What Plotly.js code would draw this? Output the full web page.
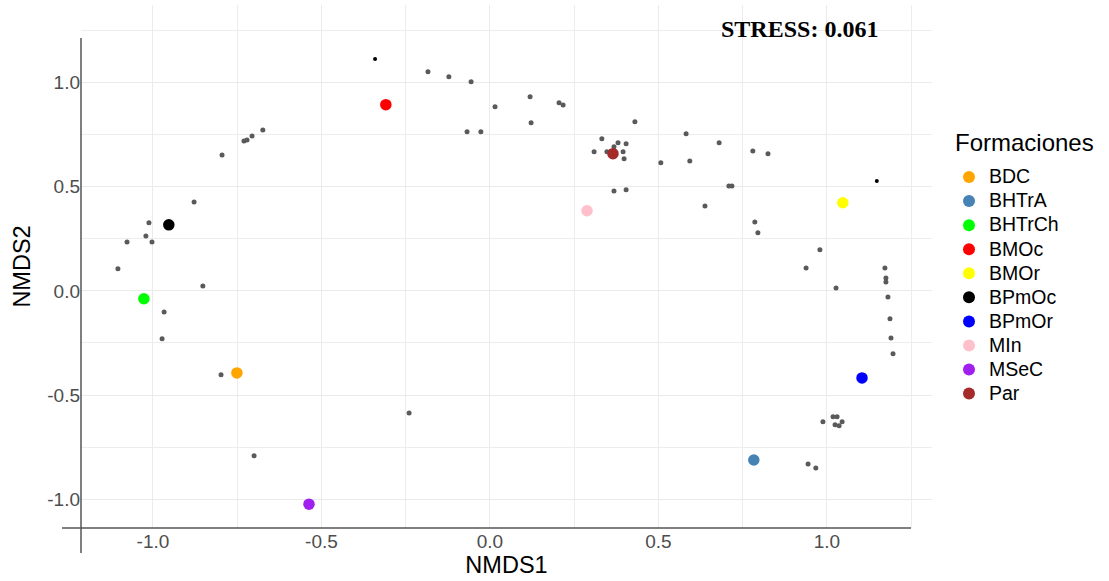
<!DOCTYPE html>
<html>
<head>
<meta charset="utf-8">
<script src="https://cdn.plot.ly/plotly-3.0.1.min.js"></script>
<style>html,body{margin:0;padding:0;background:#fff;}#chart{width:1109px;height:581px;}</style>
</head>
<body>
<div id="chart"></div>
<script>
// Formation (site) scores
const formaciones = ["BDC","BHTrA","BHTrCh","BMOc","BMOr","BPmOc","BPmOr","MIn","MSeC","Par"];
const formColors  = ["#FFA500","#4682B4","#00FF00","#FF0000","#FFFF00","#000000","#0000FF","#FFC0CB","#A020F0","#A52A2A"];
const formX = [-0.751, 0.783, -1.027, -0.309, 1.047, -0.953, 1.104, 0.288, -0.537, 0.365];
const formY = [-0.394, -0.812, -0.038, 0.894, 0.423, 0.317, -0.418, 0.385, -1.024, 0.659];

// Species scores (small grey points)
const speciesX = [-1.104,-1.077,-1.012,-1.021,-1.003,-0.878,-0.852,-0.967,-0.973,-0.798,-0.700,-0.240,
  -0.795,-0.730,-0.721,-0.706,-0.674,-0.184,-0.122,-0.056,-0.068,-0.027,0.015,0.119,0.122,0.205,0.217,
  0.430,0.332,0.380,0.404,0.368,0.309,0.347,0.395,0.398,0.507,0.582,0.593,0.638,0.680,0.709,0.718,
  0.780,0.825,0.368,0.404,0.786,0.795,0.979,0.938,1.027,1.172,1.175,1.175,1.181,1.187,1.190,1.196,
  0.988,1.018,1.030,1.024,1.036,1.045,0.944,0.967];
const speciesY = [0.106,0.235,0.327,0.264,0.235,0.427,0.024,-0.101,-0.230,-0.403,-0.792,-0.586,
  0.653,0.720,0.725,0.744,0.773,1.052,1.028,1.004,0.764,0.764,0.884,0.932,0.807,0.903,0.893,
  0.812,0.730,0.711,0.706,0.692,0.668,0.668,0.668,0.634,0.615,0.754,0.624,0.408,0.711,0.504,0.504,
  0.672,0.658,0.480,0.485,0.331,0.279,0.197,0.110,0.014,0.110,0.062,0.043,-0.029,-0.134,-0.226,-0.302,
  -0.629,-0.605,-0.605,-0.643,-0.648,-0.629,-0.831,-0.850];
// Species points drawn darker (overplotted)
const speciesDarkX = [-0.341, 1.148];
const speciesDarkY = [1.114, 0.528];

const xTickVals = [-1, -0.5, 0, 0.5, 1];
const xTickText = ["-1.0","-0.5","0.0","0.5","1.0"];
const yTickVals = [-1, -0.5, 0, 0.5, 1];
const yTickText = ["-1.0","-0.5","0.0","0.5","1.0"];
const stressText = "STRESS: 0.061";
const legendTitle = "Formaciones";

const traces = [];
traces.push({
  x: speciesX, y: speciesY, type: "scatter", mode: "markers", showlegend: false, hoverinfo: "skip",
  marker: {color: "#5a5a5a", size: 5}
});
traces.push({
  x: speciesDarkX, y: speciesDarkY, type: "scatter", mode: "markers", showlegend: false, hoverinfo: "skip",
  marker: {color: "#000000", size: 4}
});
formaciones.forEach((f, i) => {
  traces.push({
    x: [formX[i]], y: [formY[i]], type: "scatter", mode: "markers",
    name: '<span style="font-size:19.5px">' + f + '</span>',
    marker: {color: formColors[i], size: 11.5}
  });
});

const W = 851, H = 523; // plot area size in px
const layout = {
  width: 1109, height: 581,
  margin: {l: 81, r: 177, t: 5, b: 53},
  paper_bgcolor: "#ffffff", plot_bgcolor: "#ffffff",
  font: {family: "Liberation Sans, Arial, sans-serif", color: "#000"},
  xaxis: {
    range: [-1.2136, 1.3117], tickmode: "array", tickvals: xTickVals, ticktext: xTickText,
    showgrid: true, gridcolor: "#ebebeb", gridwidth: 1, zeroline: false, showline: false, ticks: "",
    tickfont: {size: 19, color: "#4d4d4d"},
    minor: {tickmode: "array", tickvals: [-1.25, -0.75, -0.25, 0.25, 0.75, 1.25], showgrid: true, gridcolor: "#ededed", gridwidth: 1},
    title: {text: "NMDS1", font: {size: 23.5, color: "#000"}, standoff: 5}
  },
  yaxis: {
    range: [-1.1386, 1.3727], tickmode: "array", tickvals: yTickVals, ticktext: yTickText,
    showgrid: true, gridcolor: "#ebebeb", gridwidth: 1, zeroline: false, showline: false, ticks: "",
    tickfont: {size: 19, color: "#4d4d4d"},
    minor: {tickmode: "array", tickvals: [-0.75, -0.25, 0.25, 0.75, 1.25], showgrid: true, gridcolor: "#ededed", gridwidth: 1},
    title: {text: "NMDS2", font: {size: 23.5, color: "#000"}, standoff: 10}
  },
  legend: {
    x: (949 - 81) / W, xanchor: "left", y: (528 - 160) / H, yanchor: "top",
    font: {size: 16.2, color: "#000"}, tracegroupgap: 0, itemsizing: "constant",
    bgcolor: "rgba(0,0,0,0)"
  },
  shapes: [
    {type: "rect", xref: "paper", yref: "paper", x0: 0.001, x1: (264 - 81) / W, y0: (528 - 50) / H, y1: (528 - 26) / H,
     fillcolor: "#ffffff", line: {width: 0}, layer: "below"},
    {type: "line", xref: "paper", yref: "paper", x0: 0, x1: 0, y0: (528 - 553) / H, y1: (528 - 38) / H,
     line: {color: "#000000", width: 1}},
    {type: "line", xref: "paper", yref: "paper", x0: (62 - 81) / W, x1: (911 - 81) / W, y0: 0, y1: 0,
     line: {color: "#555555", width: 1.6}}
  ],
  annotations: [
    {text: "<b>" + stressText + "</b>", xref: "paper", yref: "paper", x: (799 - 81) / W, y: (528 - 29) / H,
     xanchor: "center", yanchor: "middle", showarrow: false,
     font: {family: "Liberation Serif, Times New Roman, serif", size: 24, color: "#000"}},
    {text: legendTitle, xref: "paper", yref: "paper", x: (953 - 81) / W, y: (528 - 142) / H,
     xanchor: "left", yanchor: "middle", showarrow: false,
     font: {size: 24, color: "#000"}}
  ]
};

Plotly.newPlot("chart", traces, layout, {displayModeBar: false, staticPlot: true});
</script>
</body>
</html>
